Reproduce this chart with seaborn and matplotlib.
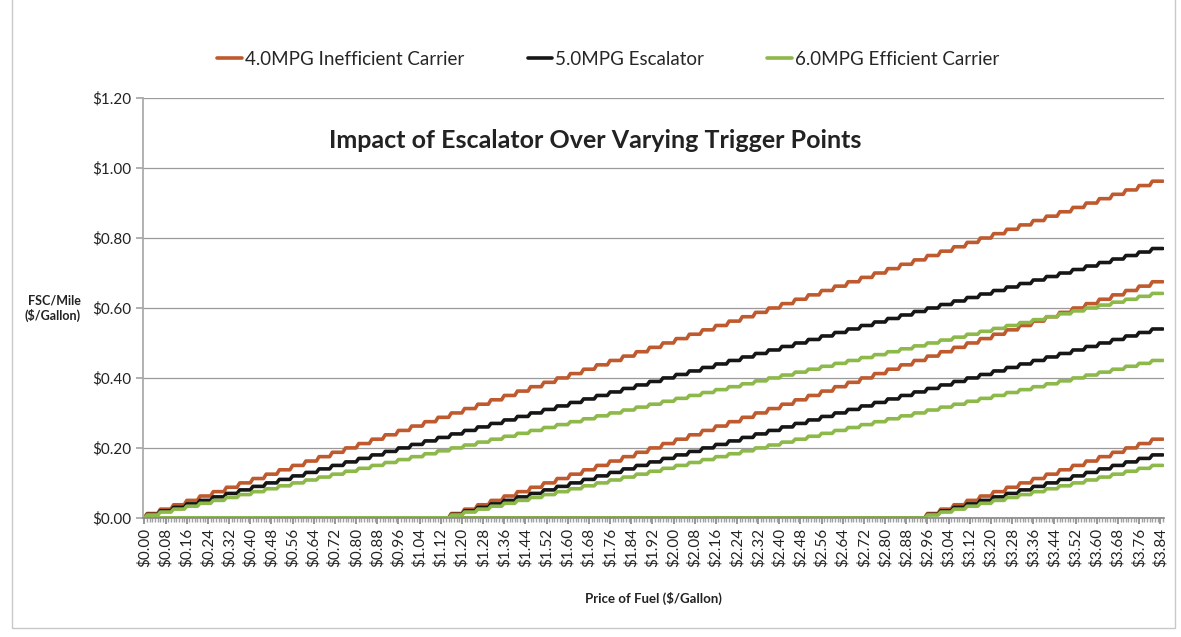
import numpy as np
import pandas as pd
import seaborn as sns
import matplotlib.pyplot as plt
from matplotlib.ticker import MultipleLocator, FuncFormatter
from matplotlib.patches import Rectangle

# Fuel price categories in whole cents ($0.00 .. $3.85)
price_cents = list(range(0, 386))

# Carrier fuel economy and the escalator trigger prices ($/gal)
series_names = ["4.0MPG Inefficient Carrier", "5.0MPG Escalator", "6.0MPG Efficient Carrier"]
mpg_values = [4.0, 5.0, 6.0]
trigger_prices = [0.00, 1.15, 2.95]
bracket_cents = 5  # surcharge moves in 5-cent price brackets

colors = ["#BF5A2E", "#161616", "#8DB84A"]

# Build the surcharge-per-mile table: each started 5-cent bracket above the
# trigger adds (bracket / mpg) dollars per mile.
rows = []
for trig in trigger_prices:
    trig_c = int(round(trig * 100))
    for name, mpg in zip(series_names, mpg_values):
        for c in price_cents:
            over = max(c - trig_c, 0)
            brackets = -(-over // bracket_cents)
            rows.append({
                "price": c / 100.0,
                "fsc": brackets * bracket_cents / 100.0 / mpg,
                "carrier": name,
                "trigger": trig,
            })
df = pd.DataFrame(rows)

sns.set_theme(style="white")
plt.rcParams["font.family"] = ["Lato", "DejaVu Sans"]

fig = plt.figure(figsize=(11.81, 6.37), dpi=100)
ax = fig.add_axes([0.121, 0.187, 0.865, 0.659])

sns.lineplot(
    data=df, x="price", y="fsc", hue="carrier", units="trigger",
    estimator=None, palette=dict(zip(series_names, colors)),
    hue_order=series_names, linewidth=2.6, ax=ax, sort=False,
)

ax.set_xlim(-0.006, 3.856)
ax.set_ylim(0, 1.2)
ax.yaxis.set_major_locator(MultipleLocator(0.2))
ax.yaxis.set_major_formatter(FuncFormatter(lambda v, p: f"${v:.2f}"))
ax.xaxis.set_major_locator(MultipleLocator(0.08))
ax.xaxis.set_minor_locator(MultipleLocator(0.01))
ax.xaxis.set_major_formatter(FuncFormatter(lambda v, p: f"${abs(v):.2f}"))

ax.grid(axis="y", color="#9a9a9a", linewidth=0.9)
ax.set_axisbelow(True)
for side in ["top", "right"]:
    ax.spines[side].set_visible(False)
ax.spines["left"].set_color("#a8a8a8")
ax.spines["bottom"].set_color("#8a8a8a")

ax.tick_params(axis="x", which="major", labelrotation=90, labelsize=11,
               length=4, color="#8a8a8a", bottom=True, pad=3, labelcolor="#222222")
ax.tick_params(axis="x", which="minor", length=3, color="#a0a0a0", bottom=True)
ax.tick_params(axis="y", labelsize=11, length=5, color="#a8a8a8", left=True,
               labelcolor="#222222")

ax.set_xlabel("Price of Fuel ($/Gallon)", fontsize=9.5, fontweight="bold",
              color="#222222", labelpad=18)
ax.set_ylabel("FSC/Mile\n($/Gallon)", fontsize=9, fontweight="bold",
              color="#222222", rotation=0, labelpad=8, va="center", ha="right")

ax.text(0.443, 0.90, "Impact of Escalator Over Varying Trigger Points",
        transform=ax.transAxes, ha="center", va="center", fontsize=18,
        fontweight="bold", color="#222222")

ax.legend(loc="center", bbox_to_anchor=(0.515, 0.907), bbox_transform=fig.transFigure,
          ncol=3, frameon=False, fontsize=13.5, handlelength=1.3,
          handletextpad=0.15, columnspacing=3.4)

# Light chart-area frame
fig.patches.append(Rectangle((0.010, 0.014), 0.985, 1.2, transform=fig.transFigure,
                             fill=False, edgecolor="#c8c8c8", linewidth=1.0))

fig.savefig("out.png", dpi=100)
